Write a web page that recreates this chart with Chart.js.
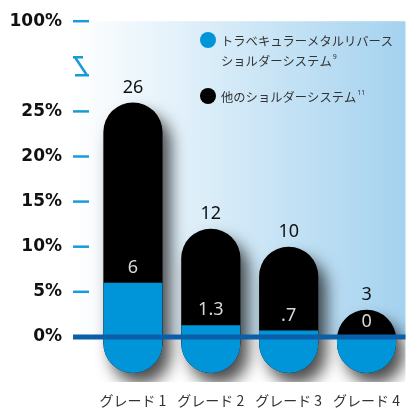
<!DOCTYPE html>
<html>
<head>
<meta charset="utf-8">
<script src="https://cdn.jsdelivr.net/npm/chart.js@4/dist/chart.umd.min.js"></script>
<style>
  html, body { margin: 0; padding: 0; background: #fff; }
  #wrap { width: 410px; height: 410px; }
</style>
</head>
<body>
<div id="wrap"><canvas id="chart"></canvas></div>
<script>
const categories = ['グレード 1', 'グレード 2', 'グレード 3', 'グレード 4'];
const trabecularValues = [6, 1.3, 0.7, 0];
const otherValues = [26, 12, 10, 3];
const seriesNames = [
    ['トラベキュラーメタルリバース', 'ショルダーシステム'],
    ['他のショルダーシステム']
];
const seriesRefs = ['9', '11'];
const yTickValues = [0, 5, 10, 15, 20, 25];
const yTopLabel = '100%';

const BLUE = '#0094d8';
const TICK_BLUE = '#1b9ad8';
const LINE_BLUE = '#0b5ea8';
const BAR_FLOOR = -4;   // capsules hang below the baseline
const BREAK_AT = 30;    // axis break symbol
const TOP_AT = 35;      // where 100% sits
const RADIUS = 30;
const CJK = '"Noto Sans CJK JP", "Noto Sans", sans-serif';

const capsulePath = (ctx, meta) => {
    ctx.beginPath();
    meta.data.forEach(bar => {
        const p = bar.getProps(['x', 'y', 'base', 'width'], true);
        const h = p.base - p.y;
        const r = Math.min(RADIUS, p.width / 2, h / 2);
        ctx.roundRect(p.x - p.width / 2, p.y, p.width, h, r);
    });
};

const decor = {
    id: 'decor',
    beforeDraw(chart) {
        const {ctx, chartArea, scales: {y}} = chart;
        const left = y.right - 21;
        const bottom = y.getPixelForValue(0);
        const g = ctx.createLinearGradient(left, 0, chartArea.right, 0);
        g.addColorStop(0, '#ffffff');
        g.addColorStop(1, '#a4d2ef');
        ctx.save();
        ctx.fillStyle = g;
        ctx.fillRect(left, chartArea.top, chartArea.right - left, bottom - chartArea.top);
        ctx.restore();
    },
    beforeDatasetDraw(chart, args) {
        const ctx = chart.ctx;
        ctx.save();
        if (args.index === 1) {
            ctx.shadowColor = 'rgba(0,0,0,0.7)';
            ctx.shadowBlur = 16;
            ctx.shadowOffsetX = 8;
            ctx.shadowOffsetY = 11;
        } else {
            capsulePath(ctx, chart.getDatasetMeta(1));
            ctx.clip();
        }
    },
    afterDatasetDraw(chart) {
        chart.ctx.restore();
    },
    afterDatasetsDraw(chart) {
        const {ctx, chartArea, scales: {y}} = chart;
        const x0 = y.right - 21;
        ctx.save();

        // y tick dashes
        ctx.strokeStyle = TICK_BLUE;
        ctx.lineWidth = 2.5;
        [...yTickValues.filter(v => v !== 0), TOP_AT].forEach(v => {
            const py = y.getPixelForValue(v);
            ctx.beginPath();
            ctx.moveTo(x0, py);
            ctx.lineTo(y.right - 5, py);
            ctx.stroke();
        });

        // axis break
        const by = y.getPixelForValue(BREAK_AT);
        ctx.beginPath();
        ctx.moveTo(x0, by - 9);
        ctx.lineTo(x0 + 10, by - 9);
        ctx.moveTo(x0 + 2, by - 9);
        ctx.lineTo(x0 + 14, by + 9);
        ctx.moveTo(x0 + 2, by + 9);
        ctx.lineTo(x0 + 16, by + 9);
        ctx.stroke();

        // baseline
        const y0 = y.getPixelForValue(0);
        ctx.strokeStyle = LINE_BLUE;
        ctx.lineWidth = 5;
        ctx.beginPath();
        ctx.moveTo(x0, y0);
        ctx.lineTo(chartArea.right, y0);
        ctx.stroke();

        // value labels
        ctx.font = '18px "Noto Sans", sans-serif';
        ctx.textAlign = 'center';
        ctx.textBaseline = 'middle';
        const blueMeta = chart.getDatasetMeta(0);
        const blackMeta = chart.getDatasetMeta(1);
        blackMeta.data.forEach((bar, i) => {
            ctx.fillStyle = '#111';
            ctx.fillText(String(otherValues[i]), bar.x, bar.y - 15);
            const by2 = blueMeta.data[i].y;
            ctx.fillStyle = '#d9d9d9';
            ctx.fillText(String(trabecularValues[i]).replace(/^0\./, '.'), bar.x, by2 - 15);
        });

        // legend
        const colors = [BLUE, '#000'];
        const rows = [40, 96];
        ctx.textAlign = 'left';
        seriesNames.forEach((lines, s) => {
            const cy = rows[s];
            ctx.fillStyle = colors[s];
            ctx.beginPath();
            ctx.arc(208, cy, 8, 0, Math.PI * 2);
            ctx.fill();
            ctx.fillStyle = '#333';
            lines.forEach((t, k) => {
                const ly = cy + 1 + k * 20;
                ctx.font = '12.3px ' + CJK;
                ctx.fillText(t, 221, ly);
                if (k === lines.length - 1) {
                    const w = ctx.measureText(t).width;
                    ctx.font = '7px "Noto Sans", sans-serif';
                    ctx.fillText(seriesRefs[s], 222 + w, ly - 4);
                }
            });
        });
        ctx.restore();
    }
};

new Chart(document.getElementById('chart'), {
    type: 'bar',
    data: {
        labels: categories,
        datasets: [{
            label: seriesNames[0].join(''),
            data: trabecularValues,
            backgroundColor: BLUE,
            base: BAR_FLOOR,
            grouped: false,
            borderRadius: 0,
            barPercentage: 0.76,
            categoryPercentage: 1
        }, {
            label: seriesNames[1].join(''),
            data: otherValues,
            backgroundColor: '#000',
            base: BAR_FLOOR,
            grouped: false,
            borderRadius: RADIUS,
            borderSkipped: false,
            barPercentage: 0.76,
            categoryPercentage: 1
        }]
    },
    options: {
        responsive: true,
        maintainAspectRatio: false,
        animation: false,
        layout: {padding: {top: 20, bottom: 1, left: 0, right: 0}},
        plugins: {
            legend: {display: false},
            tooltip: {enabled: false}
        },
        scales: {
            x: {
                afterFit(scale) { scale.height = 27; },
                grid: {display: false, drawTicks: false},
                border: {display: false},
                ticks: {
                    padding: 10,
                    color: '#333',
                    font: {family: CJK, size: 14}
                }
            },
            y: {
                min: -5,
                max: TOP_AT,
                afterFit(scale) { scale.width = 94; },
                afterBuildTicks(scale) {
                    scale.ticks = [...yTickValues, BREAK_AT, TOP_AT].map(v => ({value: v}));
                },
                grid: {
                    drawOnChartArea: false,
                    drawTicks: true,
                    tickLength: 21,
                    tickColor: 'rgba(0,0,0,0)'
                },
                border: {display: false},
                ticks: {
                    padding: 11,
                    color: '#111',
                    font: {family: '"DejaVu Sans", sans-serif', size: 17, weight: 'bold'},
                    callback: v => v === TOP_AT ? yTopLabel : (v === BREAK_AT ? '' : v + '%')
                }
            }
        }
    },
    plugins: [decor]
});
</script>
</body>
</html>
